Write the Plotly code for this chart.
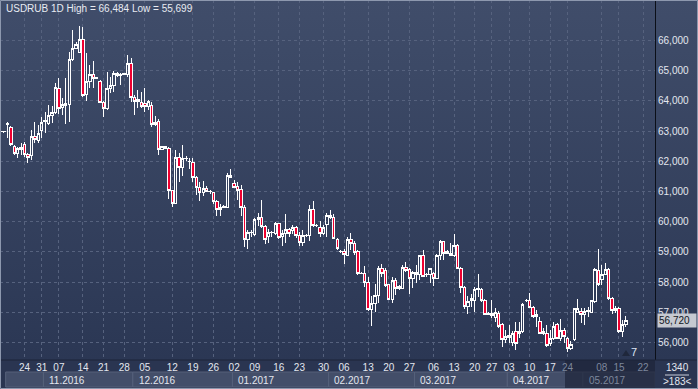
import base64
import plotly.graph_objects as go

# ---------------- data (USDRUB daily bars, bar index 0 = first visible bar) ----------------
open_ = [62.98, 62.97, 63.20, 63.12, 62.50, 62.26, 62.40, 62.54, 62.23, 62.18,
         62.81, 62.70, 63.03, 63.30, 63.26, 63.53, 63.60, 64.41, 63.77, 63.86,
         63.88, 65.38, 65.74, 65.60, 66.03, 64.21, 64.65, 64.88, 64.74, 64.65,
         63.95, 63.75, 64.41, 64.52, 64.91, 64.83, 64.88, 64.88, 65.24, 64.10,
         63.99, 63.95, 63.92, 63.81, 63.86, 63.22, 63.33, 62.40, 62.50, 62.43,
         61.04, 60.62, 62.14, 61.80, 62.09, 62.00, 61.96, 61.47, 61.14, 60.98,
         61.10, 60.99, 60.97, 60.66, 60.39, 60.47, 60.47, 61.53, 61.25, 61.16,
         61.05, 60.47, 59.41, 59.63, 59.58, 60.08, 60.14, 59.84, 59.50, 59.64,
         59.60, 59.93, 59.50, 59.60, 59.73, 59.70, 59.80, 59.55, 59.30, 59.55,
         59.55, 60.40, 59.88, 59.82, 59.62, 59.90, 60.22, 60.14, 59.40, 59.02,
         59.00, 58.90, 59.40, 59.27, 59.00, 58.30, 58.29, 58.00, 57.10, 57.30,
         57.57, 58.46, 58.40, 57.93, 57.43, 58.07, 57.80, 57.80, 58.49, 58.42,
         58.13, 58.31, 58.26, 58.87, 58.24, 58.24, 58.30, 58.13, 58.90, 59.34,
         58.96, 58.94, 58.90, 59.23, 58.46, 57.83, 57.20, 57.45, 57.39, 57.76,
         57.76, 57.40, 56.94, 56.97, 56.85, 56.98, 56.61, 56.09, 56.16, 56.00,
         56.36, 56.31, 56.36, 57.38, 57.41, 57.17, 56.94, 56.70, 56.31, 56.29,
         55.96, 56.14, 56.59, 56.14, 56.42, 56.14, 55.81, 56.09, 56.99, 57.03,
         56.92, 57.03, 56.99, 57.36, 58.40, 58.10, 58.27, 58.43, 57.47, 57.08,
         57.14, 56.36, 56.59]
high = [63.02, 63.00, 63.31, 63.17, 62.54, 62.48, 62.60, 62.63, 62.26, 63.03,
        63.29, 63.20, 63.48, 63.64, 63.86, 63.84, 64.58, 64.77, 64.08, 64.74,
        65.60, 66.34, 65.96, 66.48, 66.45, 65.57, 65.18, 65.30, 64.80, 64.69,
        64.00, 64.94, 64.80, 64.99, 64.94, 64.91, 64.92, 65.51, 65.40, 64.19,
        64.36, 64.30, 64.43, 64.02, 63.96, 63.50, 63.40, 62.52, 62.52, 62.47,
        61.05, 62.38, 62.28, 62.54, 62.18, 62.10, 62.10, 61.51, 61.33, 61.35,
        61.18, 61.05, 61.00, 60.71, 60.60, 60.55, 61.62, 61.73, 61.37, 61.33,
        61.20, 60.55, 59.72, 59.72, 60.11, 60.30, 60.73, 59.88, 59.75, 59.70,
        60.00, 59.97, 59.73, 60.27, 59.80, 59.88, 59.86, 59.66, 59.72, 59.60,
        60.55, 60.70, 59.93, 60.04, 59.90, 60.30, 60.40, 60.25, 59.45, 59.05,
        59.11, 59.51, 59.62, 59.35, 59.05, 58.35, 58.53, 58.17, 57.55, 57.94,
        58.54, 58.60, 58.46, 57.94, 58.16, 58.13, 57.90, 58.56, 58.68, 58.46,
        58.38, 58.56, 58.90, 59.05, 58.30, 58.48, 58.35, 58.94, 59.40, 59.36,
        59.06, 59.30, 59.61, 59.28, 58.50, 57.87, 57.55, 57.61, 57.85, 58.27,
        57.80, 57.46, 57.00, 57.41, 57.15, 57.04, 56.66, 56.42, 56.58, 56.40,
        56.69, 56.70, 57.30, 57.43, 57.63, 57.20, 57.08, 56.86, 56.47, 56.59,
        56.42, 56.69, 56.66, 56.77, 56.50, 56.20, 56.05, 57.16, 57.43, 57.14,
        57.14, 57.19, 57.41, 58.46, 59.09, 58.57, 58.63, 58.46, 57.52, 57.22,
        57.19, 56.75, 56.88]
low = [62.95, 62.95, 62.76, 62.52, 62.20, 62.12, 62.20, 62.15, 61.95, 62.04,
       62.60, 62.60, 62.78, 62.92, 63.20, 63.26, 63.55, 63.57, 63.53, 63.22,
       63.31, 65.30, 65.70, 65.57, 64.14, 64.00, 64.41, 64.41, 64.72, 63.92,
       63.48, 63.70, 64.25, 64.30, 64.80, 64.52, 64.86, 64.80, 63.95, 63.53,
       63.75, 63.75, 63.64, 63.70, 63.14, 63.17, 62.20, 62.38, 62.40, 60.76,
       60.48, 60.60, 61.33, 61.50, 62.00, 61.75, 61.30, 60.88, 60.70, 60.85,
       60.98, 60.93, 60.60, 60.18, 60.18, 60.45, 60.44, 61.44, 61.12, 60.73,
       60.20, 59.17, 59.10, 59.50, 59.53, 59.86, 59.80, 59.25, 59.30, 59.48,
       59.55, 59.43, 59.20, 59.30, 59.50, 59.60, 59.45, 59.20, 59.20, 59.50,
       59.36, 59.82, 59.82, 59.50, 59.55, 59.50, 60.10, 59.43, 59.05, 58.97,
       58.60, 58.87, 59.06, 58.90, 58.23, 58.27, 57.85, 57.05, 56.55, 57.00,
       57.30, 58.18, 57.85, 57.42, 57.30, 57.58, 57.75, 57.77, 58.35, 57.60,
       57.80, 57.98, 58.07, 58.18, 58.16, 57.96, 57.88, 58.10, 58.72, 58.72,
       58.95, 58.86, 58.82, 58.43, 57.63, 57.13, 56.94, 57.17, 57.00, 57.50,
       57.35, 56.90, 56.90, 56.82, 56.70, 56.48, 55.86, 55.98, 55.98, 55.90,
       55.76, 56.14, 56.31, 57.36, 57.14, 56.81, 56.53, 56.29, 56.25, 55.86,
       55.88, 56.10, 56.11, 56.07, 56.00, 55.70, 55.75, 56.05, 56.97, 56.64,
       56.59, 56.86, 56.97, 57.32, 57.88, 57.91, 58.24, 57.41, 56.95, 56.97,
       56.31, 56.18, 56.53]
close = [63.00, 62.99, 63.25, 62.54, 62.26, 62.43, 62.45, 62.23, 62.12, 62.81,
         62.73, 62.92, 63.29, 63.35, 63.53, 63.62, 64.43, 63.75, 63.88, 63.90,
         65.38, 65.74, 65.85, 66.03, 64.19, 64.65, 64.88, 64.74, 64.78, 63.95,
         63.75, 64.41, 64.52, 64.91, 64.83, 64.88, 64.90, 65.24, 64.10, 63.99,
         64.04, 63.81, 63.81, 63.99, 63.22, 63.29, 62.40, 62.50, 62.43, 61.04,
         60.62, 62.14, 61.80, 62.10, 62.10, 61.99, 61.47, 61.14, 60.98, 61.10,
         61.00, 61.00, 60.66, 60.39, 60.47, 60.50, 61.53, 61.45, 61.14, 61.03,
         60.47, 59.41, 59.63, 59.64, 60.08, 60.14, 59.84, 59.40, 59.64, 59.65,
         59.95, 59.49, 59.60, 59.73, 59.62, 59.82, 59.55, 59.30, 59.55, 59.56,
         60.40, 59.88, 59.89, 59.62, 59.82, 60.22, 60.14, 59.45, 59.10, 59.00,
         58.92, 59.40, 59.27, 58.98, 58.29, 58.29, 58.00, 57.10, 57.30, 57.57,
         58.46, 58.29, 57.90, 57.43, 58.07, 57.80, 57.85, 58.49, 58.40, 58.13,
         58.31, 58.26, 58.87, 58.20, 58.25, 58.46, 58.13, 58.90, 59.34, 58.96,
         59.00, 58.87, 59.20, 58.46, 57.83, 57.19, 57.37, 57.39, 57.76, 57.80,
         57.40, 56.94, 56.97, 56.90, 57.00, 56.52, 56.11, 56.22, 56.24, 56.30,
         55.99, 56.36, 57.28, 57.41, 57.17, 56.88, 56.86, 56.31, 56.36, 55.92,
         56.14, 56.55, 56.14, 56.42, 56.20, 55.81, 55.95, 57.14, 57.14, 56.92,
         57.03, 57.08, 57.39, 58.43, 57.91, 58.27, 58.43, 57.47, 57.08, 57.14,
         56.36, 56.59, 56.72]

# weekly tick labels (Mondays) and the bar index where each one sits
tick_labels = ["24", "31", "07", "14", "21", "28", "05", "12", "19", "26",
               "02", "09", "16", "23", "30", "06", "13", "20", "27", "06",
               "13", "20", "27", "03", "10", "17", "24", "08", "15", "22"]
tick_bars = [7, 12, 17, 24, 30, 36, 42, 50, 56, 62,
             68, 74, 81, 87, 94, 100, 107, 113, 119, 126,
             132, 138, 143, 148, 154, 160, 165, 175, 180, 187]
dim_from_label = 26          # labels from this position on are greyed (scroll preview area)

month_labels = ["", "11.2016", "12.2016", "01.2017", "02.2017", "03.2017", "04.2017", "05.2017"]
month_start_bars = [2, 13, 39, 68, 96, 121, 148, 170]

title_text = "USDRUB 1D High = 66,484 Low = 55,699"
last_price_text = "56,720"
y_ticks = [56, 57, 58, 59, 60, 61, 62, 63, 64, 65, 66]
corner_top = "1340"
corner_bottom = ">183<"
marker_text = "7"

xs = list(range(len(close)))

ticktext = []
for k, t in enumerate(tick_labels):
    if k >= dim_from_label:
        t = '<span style="color:#7d879c">' + t + "</span>"
    ticktext.append(t)

# ---------------- figure ----------------
W, H = 698, 389
L, R, T, B = 0, 43, 0, 29
PW, PH = W - L - R, H - T - B
spacing = 3.436
x0 = -0.5 / spacing
x1 = x0 + PW / spacing
y0, y1 = 55.428, 67.333

fig = go.Figure()
fig.add_trace(go.Candlestick(
    x=xs, open=open_, high=high, low=low, close=close,
    increasing=dict(line=dict(color="#ffffff", width=1), fillcolor="rgba(0,0,0,0)"),
    decreasing=dict(line=dict(color="#ffffff", width=1), fillcolor="#ee0030"),
    whiskerwidth=0, hoverinfo="skip", showlegend=False,
))

svg = ('<svg xmlns="http://www.w3.org/2000/svg" width="10" height="100" preserveAspectRatio="none">'
       '<defs><linearGradient id="g" x1="0" y1="0" x2="0" y2="1">'
       '<stop offset="0" stop-color="#404d6a"/><stop offset="1" stop-color="#2b3754"/>'
       '</linearGradient></defs><rect width="10" height="100" fill="url(#g)"/></svg>')
src = "data:image/svg+xml;base64," + base64.b64encode(svg.encode()).decode()

font = "Liberation Sans, Arial, sans-serif"
fx = lambda px: (px - L) / PW      # px -> paper x
fy = lambda py: (T + PH - py) / PH  # px -> paper y
bar_at_px = lambda px: x0 + px / spacing

dim_bar = bar_at_px(565)

shapes = []
# bottom axis strip
shapes.append(dict(type="rect", xref="paper", yref="paper", x0=fx(0), x1=fx(W), y0=fy(H), y1=fy(PH),
                   fillcolor="#2a3551", line=dict(width=0), layer="below"))
# month boxes
for k, b in enumerate(month_start_bars):
    nxt = month_start_bars[k + 1] - 0.5 if k + 1 < len(month_start_bars) else x1
    shapes.append(dict(type="rect", xref="x", yref="paper", x0=b - 0.5, x1=min(nxt, x1),
                       y0=fy(387), y1=fy(372), fillcolor="#434e69",
                       line=dict(color="#56617b", width=1), layer="below"))
# dimmed scroll-preview part of the axis
shapes.append(dict(type="rect", xref="x", yref="paper", x0=dim_bar, x1=x1, y0=fy(388), y1=fy(PH),
                   fillcolor="rgba(30,38,58,0.72)", line=dict(width=0), layer="below"))
# axis line under plot
shapes.append(dict(type="line", xref="paper", yref="paper", x0=0, x1=fx(W), y0=0, y1=0,
                   line=dict(color="#1d2438", width=1)))
# corner separator
shapes.append(dict(type="line", xref="paper", yref="paper", x0=fx(665), x1=fx(689), y0=fy(375), y1=fy(375),
                   line=dict(color="#c7ccd8", width=1)))
# small dark marker triangle next to the "7"
shapes.append(dict(type="path", xref="paper", yref="paper",
                   path="M {} {} L {} {} L {} {} Z".format(fx(622), fy(356), fx(630), fy(356), fx(626), fy(350)),
                   fillcolor="#1f273b", line=dict(width=0)))
# frame
shapes.append(dict(type="rect", xref="paper", yref="paper", x0=fx(0.5), x1=fx(W - 0.5), y0=fy(H - 0.5), y1=fy(0.5),
                   line=dict(color="#8d98ae", width=1), fillcolor="rgba(0,0,0,0)"))

annotations = [
    dict(text=title_text, xref="paper", yref="paper", x=fx(4), y=fy(8), xanchor="left", yanchor="middle",
         showarrow=False, font=dict(family=font, size=10, color="#e8ebf2")),
    dict(text=last_price_text, xref="paper", yref="y", x=fx(657), y=close[-1], xanchor="left", yanchor="middle",
         showarrow=False, font=dict(family=font, size=10, color="#111722"), bgcolor="#c5c9d1",
         borderpad=1, width=36, align="left"),
    dict(text=marker_text, xref="paper", yref="paper", x=fx(634), y=fy(352), xanchor="center", yanchor="middle",
         showarrow=False, font=dict(family=font, size=11, color="#dfe6f5")),
    dict(text=corner_top, xref="paper", yref="paper", x=fx(677), y=fy(367), xanchor="center", yanchor="middle",
         showarrow=False, font=dict(family=font, size=10, color="#e3e7ef")),
    dict(text=corner_bottom, xref="paper", yref="paper", x=fx(677), y=fy(381), xanchor="center", yanchor="middle",
         showarrow=False, font=dict(family=font, size=10, color="#e3e7ef")),
]
for k, (lab, b) in enumerate(zip(month_labels, month_start_bars)):
    if not lab:
        continue
    dim = b >= dim_bar
    annotations.append(dict(text=lab, xref="x", yref="paper", x=b + 0.6, y=fy(380),
                            xanchor="left", yanchor="middle", showarrow=False,
                            font=dict(family=font, size=10, color="#7d879c" if dim else "#e3e7ef")))

fig.update_layout(
    width=W, height=H, margin=dict(l=L, r=R, t=T, b=B),
    paper_bgcolor="#36425f", plot_bgcolor="rgba(0,0,0,0)",
    separators=", ", boxgap=0.0,
    images=[dict(source=src, xref="paper", yref="paper", x=0, y=1, sizex=fx(W), sizey=1,
                 sizing="stretch", layer="below")],
    shapes=shapes, annotations=annotations,
    xaxis=dict(range=[x0, x1], tickvals=tick_bars, ticktext=ticktext, showgrid=True,
               gridcolor="#56627e", griddash="3px,3px", gridwidth=1, zeroline=False,
               rangeslider=dict(visible=False), ticks="", showline=False,
               tickfont=dict(family=font, size=10, color="#e3e7ef")),
    yaxis=dict(range=[y0, y1], side="right", tickvals=y_ticks, tickformat=".3f", showgrid=True,
               gridcolor="#56627e", griddash="3px,3px", gridwidth=1, zeroline=False,
               showline=True, linecolor="#0b0f18", linewidth=1, ticks="",
               tickfont=dict(family=font, size=10, color="#e3e7ef")),
)

post = ("document.body.style.margin='0';document.body.style.overflow='hidden';"
        "document.querySelectorAll('.boxlayer path').forEach(function(p){p.style.shapeRendering='crispEdges';});")
fig.write_html("out.html", config={"displayModeBar": False}, post_script=post)
